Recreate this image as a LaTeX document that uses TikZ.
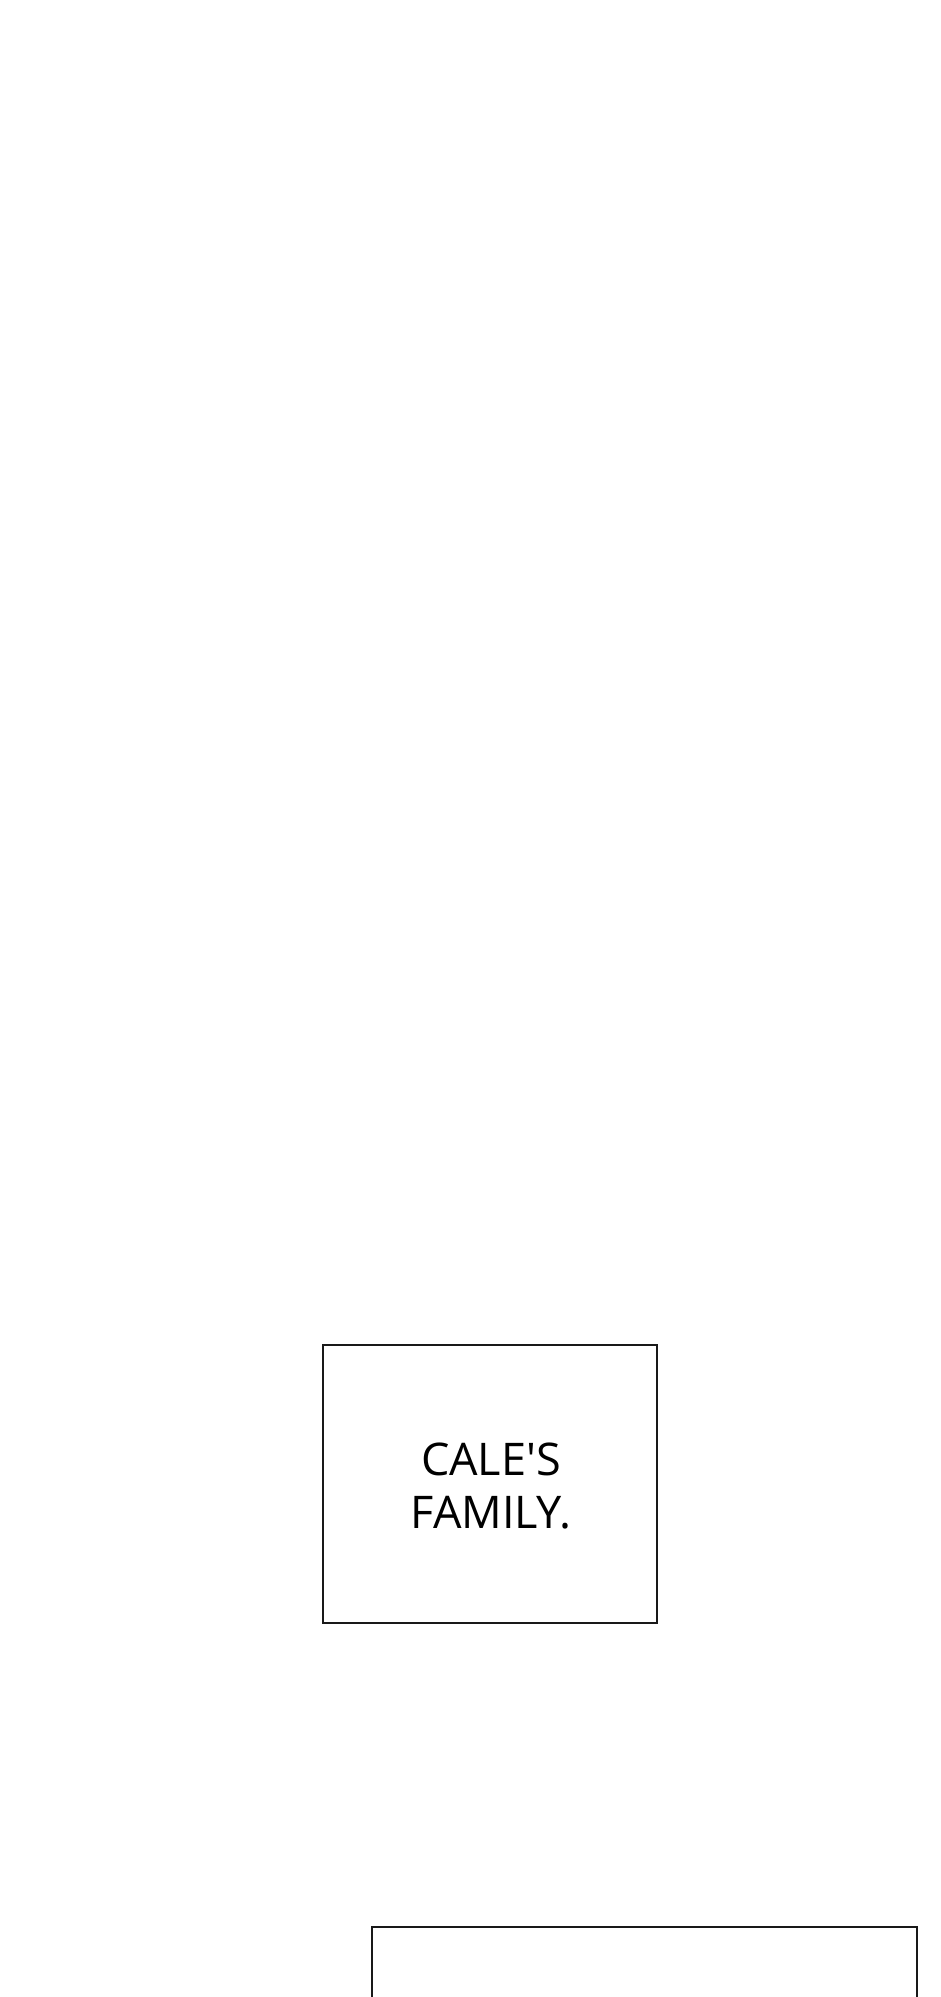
\documentclass[tikz,border=0pt]{standalone}
\usepackage{fontspec}
\setmainfont{Open Sans}
\begin{document}
\begin{tikzpicture}[x=1pt,y=-1pt,
  panel/.style={draw=black!90,line width=2pt},
  caption/.style={align=center,font=\fontsize{45}{53}\selectfont,text=black}]
\useasboundingbox[fill=white] (0,0) rectangle (940,1997);
\draw[panel] (322.7,1345) rectangle (656.7,1622.7);
\node[caption] (cap) at (491,1486) {CALE\textquotesingle S\\FAMILY.};
\draw[panel] (372.3,2010) -- (372.3,1927) -- (917,1927) -- (917,2010);
\end{tikzpicture}
\end{document}
